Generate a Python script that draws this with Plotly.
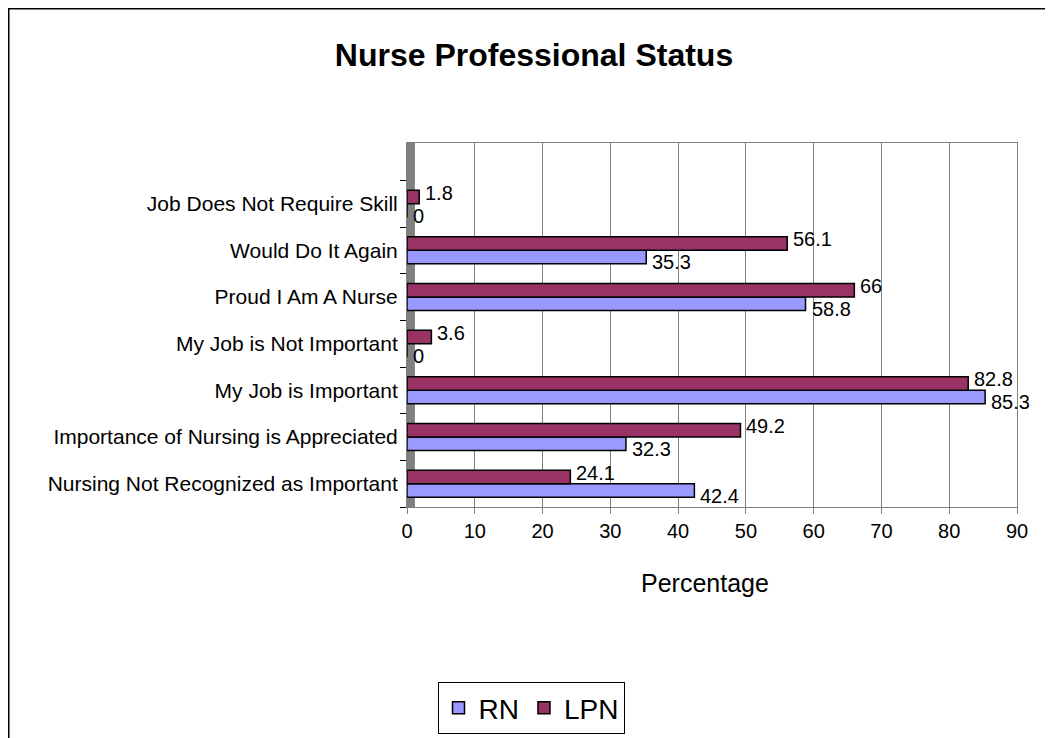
import plotly.graph_objects as go

categories = [
    "Nursing Not Recognized as Important",
    "Importance of Nursing is Appreciated",
    "My Job is Important",
    "My Job is Not Important",
    "Proud I Am A Nurse",
    "Would Do It Again",
    "Job Does Not Require Skill",
]
rn_values = [42.4, 32.3, 85.3, 0, 58.8, 35.3, 0]
lpn_values = [24.1, 49.2, 82.8, 3.6, 66, 56.1, 1.8]
x_ticks = [0, 10, 20, 30, 40, 50, 60, 70, 80, 90]

# the page adds an 8px body margin; positions below are in figure pixels
W, H = 1053, 738
L, R, T, B = 399, 44, 135, 239
pw, ph = W - L - R, H - T - B

def px_x(p):
    return (p - L) / pw

def px_y(p):
    return (H - B - p) / ph

font = "Arial, Liberation Sans, sans-serif"

fig = go.Figure()
fig.add_trace(go.Bar(y=categories, x=rn_values, orientation="h", name="RN",
                     marker=dict(color="#9999FF", line=dict(color="black", width=1.5))))
fig.add_trace(go.Bar(y=categories, x=lpn_values, orientation="h", name="LPN",
                     marker=dict(color="#993366", line=dict(color="black", width=1.5))))

for c, v in zip(categories, rn_values):
    fig.add_annotation(x=v, y=c, text=str(v), showarrow=False, xanchor="left",
                       yanchor="middle", xshift=4, yshift=-12,
                       font=dict(family=font, size=20, color="black"))
for c, v in zip(categories, lpn_values):
    fig.add_annotation(x=v, y=c, text=str(v), showarrow=False, xanchor="left",
                       yanchor="middle", xshift=4, yshift=11,
                       font=dict(family=font, size=20, color="black"))

# x-axis title
fig.add_annotation(xref="paper", yref="paper", x=px_x(697), y=px_y(575),
                   text="Percentage", showarrow=False, xanchor="center", yanchor="middle",
                   font=dict(family=font, size=25, color="black"))

# left wall strip
fig.add_shape(type="rect", xref="x domain", yref="y domain", x0=0, x1=0.013, y0=0, y1=1,
              fillcolor="#808080", line=dict(width=0), layer="below")
# outer chart border
fig.add_shape(type="rect", xref="paper", yref="paper",
              x0=px_x(0.75), x1=px_x(1043), y0=px_y(0.75), y1=px_y(760),
              line=dict(color="black", width=1.5), fillcolor="rgba(0,0,0,0)")

fig.update_layout(
    width=W, height=H,
    margin=dict(l=L, r=R, t=T, b=B),
    paper_bgcolor="white", plot_bgcolor="white",
    barmode="group", bargap=0.42, bargroupgap=0,
    font=dict(family=font, size=20, color="black"),
    title=dict(text="<b>Nurse Professional Status</b>", x=526 / W, xref="container",
               xanchor="center", y=1 - 47 / H, yref="container", yanchor="middle",
               font=dict(family=font, size=32, color="black")),
    legend=dict(orientation="h", x=px_x(523), xanchor="center", y=px_y(700), yanchor="middle",
                font=dict(family=font, size=28), bordercolor="black", borderwidth=1,
                bgcolor="white", itemwidth=30, traceorder="normal"),
    showlegend=True,
)
fig.update_xaxes(range=[0, 90], tickvals=x_ticks, showgrid=True, gridcolor="#808080",
                 gridwidth=1, showline=True, linecolor="#808080", mirror=True,
                 ticks="outside", ticklen=6, tickcolor="#808080", zeroline=False,
                 tickfont=dict(size=20))
fig.update_yaxes(type="category", categoryorder="array", categoryarray=categories,
                 range=[-0.5, 7.3], showline=True, linecolor="#808080", mirror=True,
                 ticks="outside", ticklen=6, tickcolor="black", tickson="boundaries",
                 showgrid=False, tickfont=dict(size=21), ticklabelstandoff=4)

fig.write_html("out.html")
